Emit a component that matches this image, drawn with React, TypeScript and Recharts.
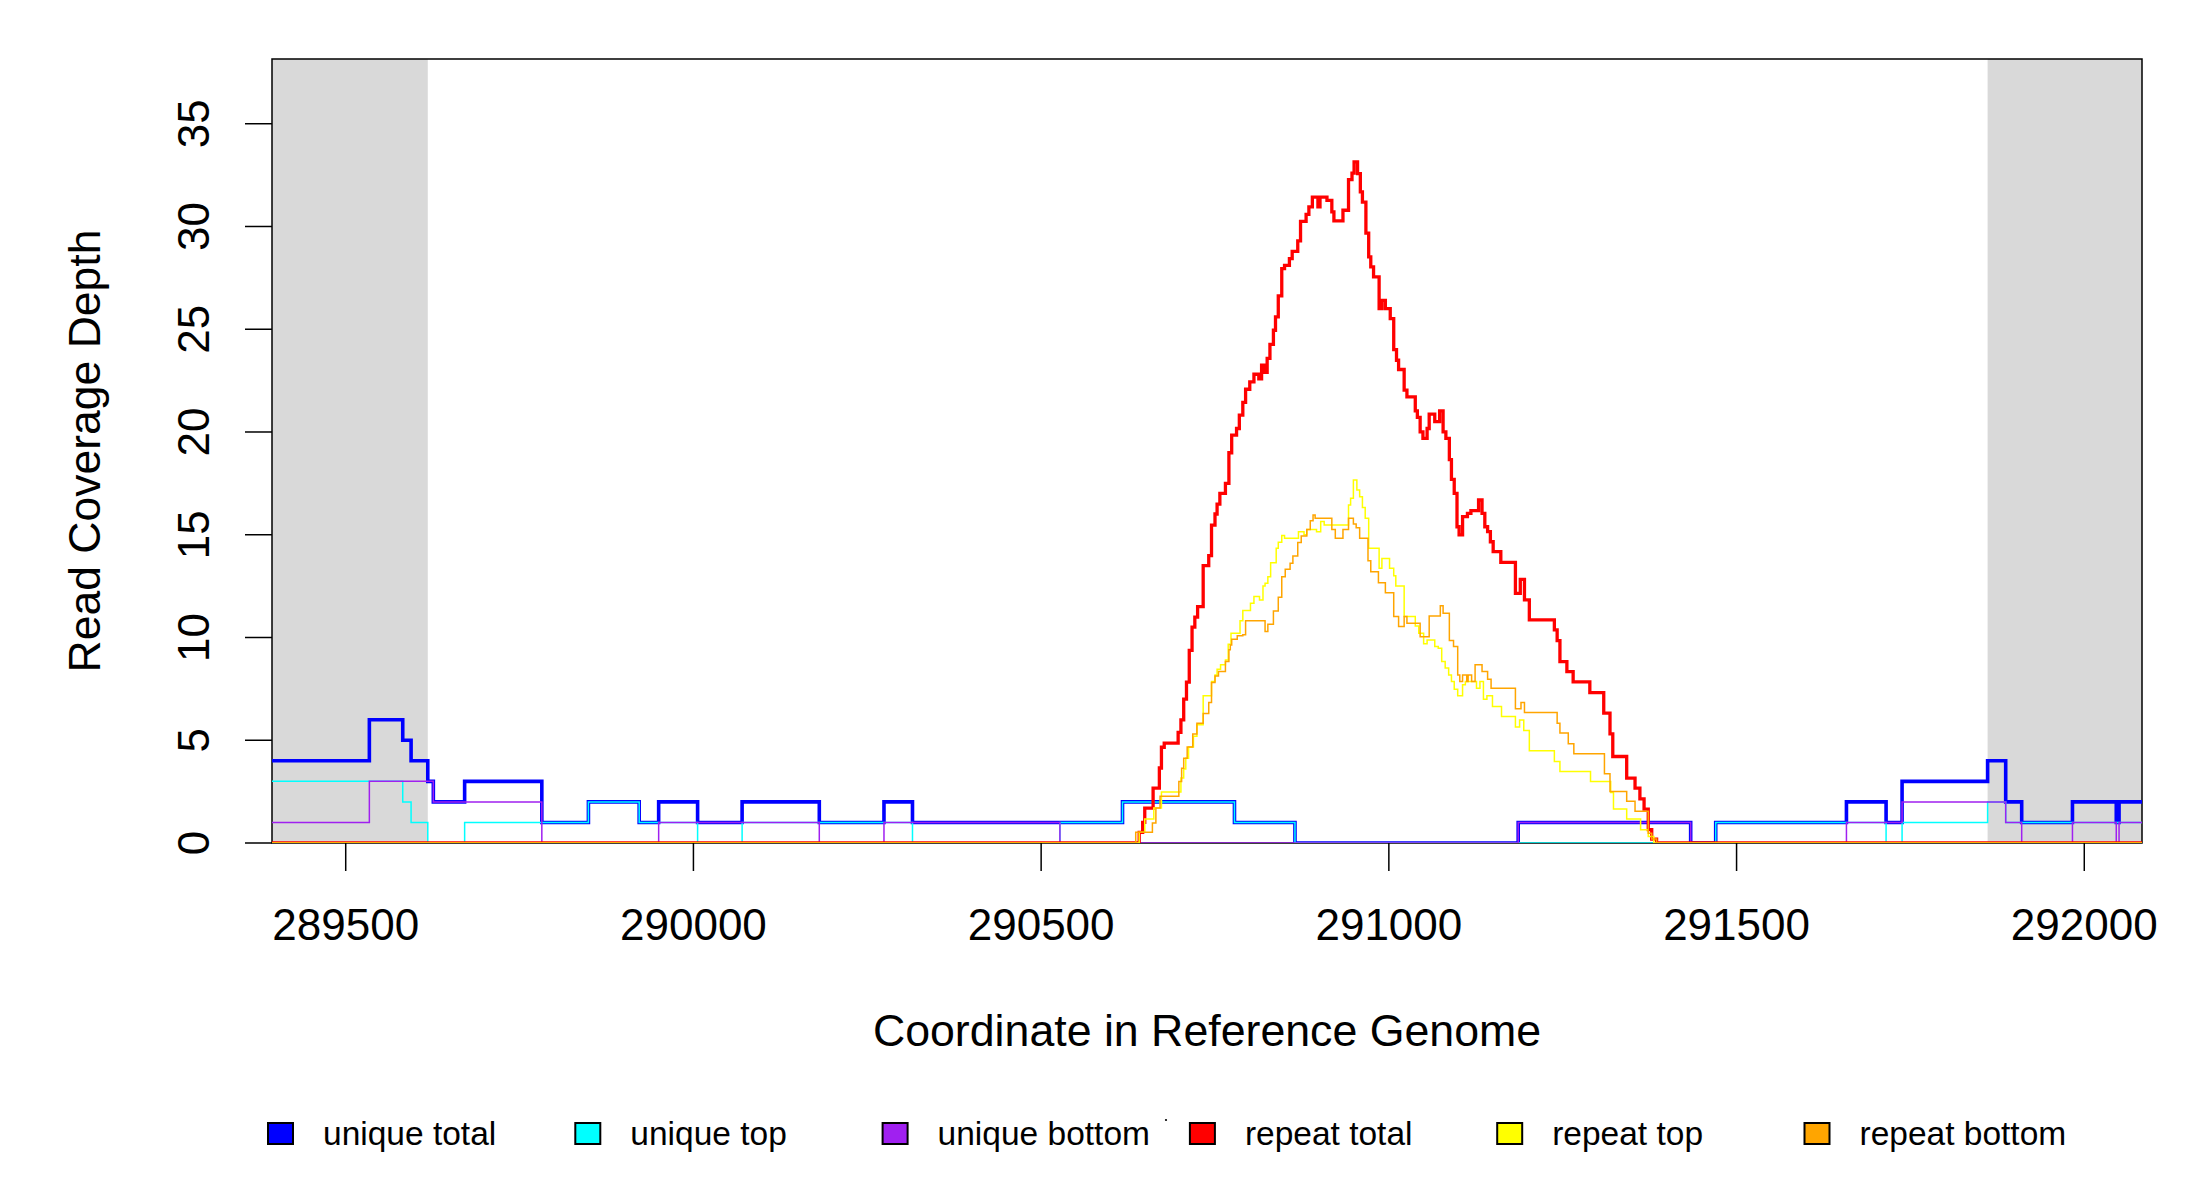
import React from 'react';
import { LineChart, Line, XAxis, YAxis, ReferenceArea, Legend, Label } from 'recharts';

const FONT = "'Liberation Sans', Arial, Helvetica, sans-serif";

const X_START = 289394;
const X_END = 292083;
const Y_TOP = 38.15;
const xTicks = [289500, 290000, 290500, 291000, 291500, 292000];
const yTicks = [0, 5, 10, 15, 20, 25, 30, 35];
const maskedRegions = [
  [289394, 289618],
  [291861, 292083],
];

const uniqueTotalX = [289394, 289534, 289582, 289594, 289618, 289626, 289671, 289782, 289849, 289922, 289950, 290006, 290070, 290181, 290274, 290315, 290617, 290778, 290865, 291186, 291434, 291470, 291658, 291715, 291738, 291861, 291887, 291910, 291983, 292046, 292050];
const uniqueTotalY = [4, 6, 5, 4, 3, 2, 3, 1, 2, 1, 2, 1, 2, 1, 2, 1, 2, 1, 0, 1, 0, 1, 2, 1, 3, 4, 2, 1, 2, 1, 2];

const uniqueTopX = [289394, 289582, 289594, 289618, 289671, 289849, 289922, 290006, 290070, 290315, 290527, 290617, 290778, 290865, 291470, 291715, 291738, 291861, 291887];
const uniqueTopY = [3, 2, 1, 0, 1, 2, 1, 0, 1, 0, 1, 2, 1, 0, 1, 0, 1, 2, 1];

const uniqueBottomX = [289394, 289534, 289626, 289782, 289950, 290181, 290274, 290527, 291186, 291434, 291658, 291738, 291887, 291910, 291983, 292046, 292050];
const uniqueBottomY = [1, 3, 2, 0, 1, 0, 1, 0, 1, 0, 1, 2, 1, 0, 1, 0, 1];

const repeatTotalX = [289394, 290641, 290646, 290649, 290661, 290670, 290673, 290677, 290697, 290701, 290705, 290709, 290713, 290717, 290721, 290725, 290733, 290741, 290745, 290750, 290753, 290757, 290765, 290770, 290774, 290781, 290785, 290790, 290794, 290800, 290806, 290813, 290817, 290821, 290825, 290829, 290834, 290837, 290841, 290846, 290850, 290857, 290861, 290869, 290873, 290881, 290885, 290890, 290898, 290901, 290911, 290918, 290921, 290934, 290942, 290947, 290950, 290955, 290959, 290962, 290967, 290971, 290974, 290978, 290986, 290990, 290995, 291002, 291007, 291011, 291014, 291022, 291026, 291038, 291041, 291045, 291049, 291055, 291058, 291066, 291073, 291078, 291082, 291087, 291090, 291094, 291098, 291101, 291106, 291113, 291118, 291129, 291134, 291138, 291142, 291146, 291150, 291161, 291182, 291189, 291195, 291202, 291238, 291242, 291246, 291256, 291265, 291289, 291309, 291318, 291322, 291342, 291354, 291361, 291367, 291373, 291378, 291385];
const repeatTotalY = [0, 0.52, 1.0, 1.7, 2.67, 3.65, 4.66, 4.86, 5.38, 5.99, 7.0, 7.83, 9.37, 10.5, 10.99, 11.5, 13.5, 13.98, 15.47, 16.01, 16.49, 17.01, 17.5, 18.99, 19.85, 20.17, 20.82, 21.44, 22.08, 22.44, 22.81, 22.59, 23.25, 22.9, 23.58, 24.26, 24.95, 25.6, 26.62, 27.95, 28.11, 28.44, 28.79, 29.3, 30.25, 30.59, 30.95, 31.43, 30.95, 31.43, 31.27, 30.71, 30.27, 30.79, 32.28, 32.6, 33.14, 32.57, 31.68, 31.19, 29.68, 28.52, 28.03, 27.55, 26.0, 26.4, 26.0, 25.52, 24.01, 23.49, 23.04, 22.04, 21.71, 21.03, 20.71, 20.01, 19.69, 20.17, 20.87, 20.5, 21.03, 20.01, 19.69, 18.66, 17.69, 17.01, 15.39, 14.99, 15.88, 16.04, 16.17, 16.69, 16.04, 15.39, 15.15, 14.66, 14.18, 13.66, 12.15, 12.83, 11.83, 10.86, 10.37, 9.85, 8.83, 8.34, 7.84, 7.32, 6.32, 5.31, 4.21, 3.16, 2.67, 2.15, 1.65, 0.65, 0.19, 0];

const repeatTopX = [289394, 290641, 290649, 290662, 290673, 290701, 290705, 290708, 290712, 290719, 290724, 290733, 290745, 290750, 290753, 290758, 290765, 290769, 290773, 290786, 290790, 290801, 290806, 290814, 290819, 290822, 290826, 290830, 290838, 290841, 290846, 290850, 290870, 290878, 290882, 290896, 290902, 290907, 290942, 290945, 290949, 290954, 290958, 290962, 290966, 290971, 290986, 290990, 291001, 291007, 291010, 291022, 291038, 291043, 291050, 291055, 291066, 291071, 291076, 291081, 291086, 291090, 291094, 291099, 291106, 291110, 291126, 291131, 291136, 291141, 291149, 291162, 291182, 291188, 291194, 291202, 291238, 291246, 291290, 291319, 291323, 291342, 291362, 291373, 291381];
const repeatTopY = [0, 0.52, 1.17, 1.7, 2.48, 3.16, 3.6, 4.13, 4.67, 5.2, 5.75, 7.16, 7.86, 8.18, 8.46, 8.67, 8.9, 9.67, 10.21, 10.82, 11.31, 11.67, 11.99, 11.83, 12.51, 12.64, 12.96, 13.64, 14.34, 14.63, 14.96, 14.83, 15.15, 15.0, 15.26, 15.15, 15.64, 15.47, 16.45, 16.77, 17.66, 17.18, 16.85, 16.33, 15.8, 14.34, 13.37, 13.85, 13.37, 13.01, 12.51, 11.02, 10.56, 10.21, 9.69, 9.88, 9.56, 9.48, 8.83, 8.51, 8.18, 7.86, 7.48, 7.16, 7.7, 7.86, 7.53, 7.86, 7.0, 7.16, 6.64, 6.16, 5.64, 5.99, 5.48, 4.49, 3.97, 3.48, 2.99, 2.46, 1.65, 1.17, 0.65, 0.32, 0];

const repeatBottomX = [289394, 290636, 290660, 290665, 290671, 290698, 290702, 290705, 290710, 290718, 290724, 290733, 290741, 290745, 290750, 290755, 290765, 290770, 290772, 290774, 290782, 290790, 290794, 290822, 290826, 290834, 290841, 290846, 290851, 290858, 290862, 290869, 290874, 290882, 290887, 290891, 290894, 290918, 290923, 290934, 290942, 290949, 290953, 290958, 290970, 290974, 290985, 290995, 291007, 291014, 291022, 291026, 291045, 291058, 291074, 291078, 291087, 291093, 291099, 291102, 291106, 291112, 291114, 291119, 291124, 291134, 291142, 291147, 291182, 291190, 291195, 291242, 291246, 291258, 291266, 291310, 291318, 291342, 291354, 291373, 291378, 291385];
const repeatBottomY = [0, 0.52, 0.97, 1.7, 2.27, 2.99, 3.64, 4.13, 4.67, 5.31, 5.83, 6.3, 6.84, 7.81, 8.13, 8.34, 8.83, 9.4, 9.64, 9.92, 10.08, 10.13, 10.82, 10.29, 10.64, 11.29, 11.96, 12.96, 13.32, 13.61, 13.97, 14.62, 14.94, 15.26, 15.68, 15.96, 15.8, 15.26, 14.83, 15.26, 15.8, 15.52, 15.34, 14.83, 13.74, 13.2, 12.67, 12.18, 11.02, 10.53, 11.02, 10.69, 10.04, 11.05, 11.54, 11.18, 9.85, 9.56, 8.18, 7.86, 8.18, 7.86, 8.18, 7.86, 8.67, 8.34, 7.97, 7.53, 6.53, 6.84, 6.35, 5.83, 5.35, 4.83, 4.34, 3.37, 2.51, 2.03, 1.54, 0.48, 0.19, 0];

const seriesNames = ['unique total', 'unique top', 'unique bottom', 'repeat total', 'repeat top', 'repeat bottom'];
const seriesColors = ['#0000FF', '#00FFFF', '#A020F0', '#FF0000', '#FFFF00', '#FFA500'];
const seriesWidths = [3.6, 1.5, 1.5, 3.3, 1.5, 1.5];

const toSteps = (xs: number[], ys: number[]) => {
  const pts = xs.map((x, i) => ({ x, y: ys[i] }));
  pts.push({ x: X_END, y: ys[ys.length - 1] });
  return pts;
};

const seriesData = [
  toSteps(uniqueTotalX, uniqueTotalY),
  toSteps(uniqueTopX, uniqueTopY),
  toSteps(uniqueBottomX, uniqueBottomY),
  toSteps(repeatTotalX, repeatTotalY),
  toSteps(repeatTopX, repeatTopY),
  toSteps(repeatBottomX, repeatBottomY),
];

const XTick = (props: any) => {
  const { x, y, payload } = props;
  return (
    <text x={x} y={y} dy={31} textAnchor="middle" fontSize={44} fontFamily={FONT} fill="#000">
      {payload.value}
    </text>
  );
};

const YTick = (props: any) => {
  const { x, y, payload } = props;
  return (
    <text x={x} y={y} transform={`rotate(-90 ${x} ${y})`} textAnchor="middle" fontSize={44} fontFamily={FONT} fill="#000">
      {payload.value}
    </text>
  );
};

const YTitle = (props: any) => {
  const vb = props.viewBox;
  const cx = vb.x + 100;
  const cy = vb.y + vb.height / 2;
  return (
    <text x={cx} y={cy} transform={`rotate(-90 ${cx} ${cy})`} textAnchor="middle" fontSize={44.5} fontFamily={FONT} fill="#000">
      Read Coverage Depth
    </text>
  );
};

const XTitle = (props: any) => {
  const vb = props.viewBox;
  const cx = vb.x + vb.width / 2;
  const cy = vb.y + 203;
  return (
    <text x={cx} y={cy} textAnchor="middle" fontSize={44.7} fontFamily={FONT} fill="#000">
      Coordinate in Reference Genome
    </text>
  );
};

const LegendContent = () => (
  <svg width={2200} height={80} style={{ display: 'block' }}>
    {seriesNames.map((name, i) => {
      const left = 268 + i * 307.3;
      return (
        <g key={name}>
          <rect x={left} y={23} width={25} height={21} fill={seriesColors[i]} stroke="#000" strokeWidth={2} />
          <text x={left + 55} y={45} fontSize={33.5} fontFamily={FONT} fill="#000">
            {name}
          </text>
        </g>
      );
    })}
    <circle cx={1166} cy={20} r={1.1} fill="#000" />
  </svg>
);

export default function App() {
  return (
    <div style={{ position: 'absolute', left: 0, top: 0, width: 2200, height: 1200, background: '#fff' }}>
      <LineChart width={2200} height={1200} margin={{ top: 59, right: 58, left: 0, bottom: 0 }}>
        <XAxis
          dataKey="x"
          type="number"
          domain={[X_START, X_END]}
          allowDataOverflow
          ticks={xTicks}
          interval={0}
          height={357}
          tickSize={28}
          tickMargin={38}
          axisLine={false}
          tickLine={{ stroke: '#000', strokeWidth: 1.5 }}
          tick={<XTick />}
        >
          <Label content={<XTitle />} />
        </XAxis>
        <YAxis
          type="number"
          domain={[0, Y_TOP]}
          allowDataOverflow
          ticks={yTicks}
          interval={0}
          width={272}
          tickSize={27}
          tickMargin={36}
          axisLine={false}
          tickLine={{ stroke: '#000', strokeWidth: 1.5 }}
          tick={<YTick />}
        >
          <Label content={<YTitle />} />
        </YAxis>
        {maskedRegions.map((r, i) => (
          <ReferenceArea key={i} x1={r[0]} x2={r[1]} y1={0} y2={Y_TOP} fill="#D9D9D9" fillOpacity={1} stroke="none" ifOverflow="hidden" />
        ))}
        <ReferenceArea x1={X_START} x2={X_END} y1={0} y2={Y_TOP} fill="none" stroke="#000" strokeWidth={1.5} ifOverflow="visible" />
        {seriesData.map((d, i) => (
          <Line
            key={seriesNames[i]}
            data={d}
            dataKey="y"
            name={seriesNames[i]}
            type="stepAfter"
            stroke={seriesColors[i]}
            strokeWidth={seriesWidths[i]}
            dot={false}
            activeDot={false}
            isAnimationActive={false}
          />
        ))}
        <Legend
          layout="horizontal"
          verticalAlign="middle"
          align="center"
          content={<LegendContent />}
          wrapperStyle={{ position: 'absolute', left: 0, top: 1100, width: 2200, height: 80 }}
        />
      </LineChart>
    </div>
  );
}
